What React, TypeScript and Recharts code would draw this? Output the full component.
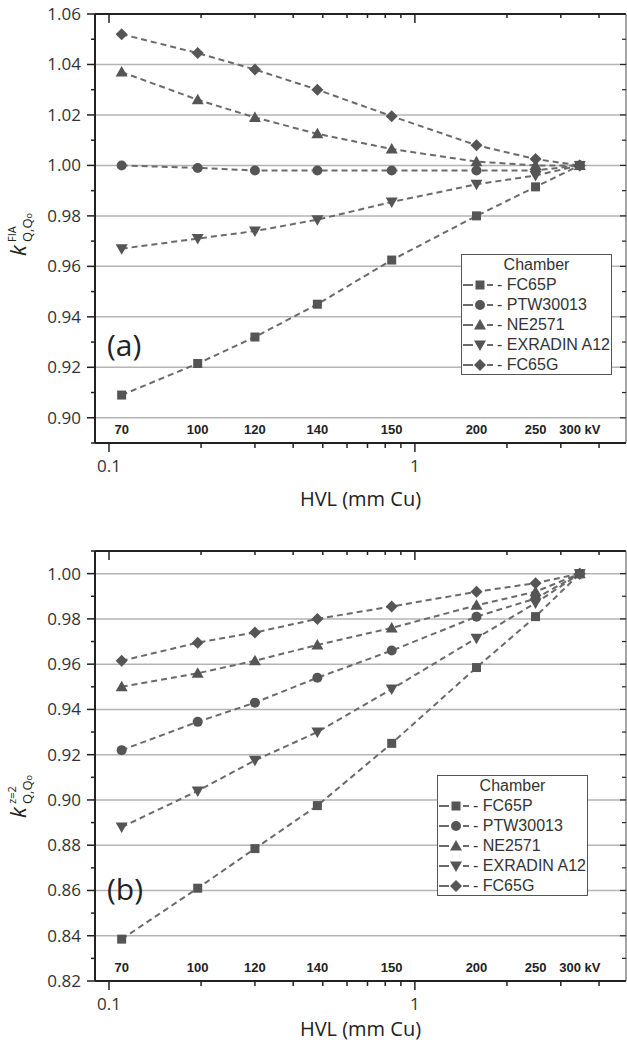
import React from 'react'
import { LineChart, Line, XAxis, YAxis, ReferenceLine } from 'recharts'

// beam quality: HVL (mm Cu) and tube voltage labels
const hvl = [0.11, 0.195, 0.3, 0.48, 0.84, 1.59, 2.48, 3.46]
const kvLabels = ['70', '100', '120', '140', '150', '200', '250', '300 kV']

const chambers = ['FC65P', 'PTW30013', 'NE2571', 'EXRADIN A12', 'FC65G']
const markers = ['square', 'circle', 'up', 'down', 'diamond']

// (a) k_FIA
const fiaFC65P = [0.909, 0.9215, 0.932, 0.945, 0.9625, 0.980, 0.9915, 1.0]
const fiaPTW30013 = [1.0, 0.999, 0.998, 0.998, 0.998, 0.998, 0.998, 1.0]
const fiaNE2571 = [1.037, 1.026, 1.019, 1.0125, 1.0065, 1.0015, 1.0, 1.0]
const fiaEXRADIN = [0.967, 0.971, 0.974, 0.9785, 0.9855, 0.9925, 0.996, 1.0]
const fiaFC65G = [1.052, 1.0445, 1.038, 1.030, 1.0195, 1.008, 1.0025, 1.0]

// (b) k z=2
const z2FC65P = [0.8385, 0.861, 0.8785, 0.8975, 0.925, 0.9585, 0.981, 1.0]
const z2PTW30013 = [0.922, 0.9345, 0.943, 0.954, 0.966, 0.981, 0.989, 1.0]
const z2NE2571 = [0.950, 0.956, 0.9615, 0.9685, 0.976, 0.986, 0.992, 1.0]
const z2EXRADIN = [0.888, 0.904, 0.9175, 0.930, 0.949, 0.9715, 0.987, 1.0]
const z2FC65G = [0.9615, 0.9695, 0.974, 0.980, 0.9855, 0.992, 0.9958, 1.0]

// axes
const xMajor = [0.1, 1]
const xMinor = [0.2, 0.3, 0.4, 0.5, 0.6, 0.7, 0.8, 0.9, 2, 3, 4]
const xDomain = [0.09, 4.9]

const yMajorA = [0.90, 0.92, 0.94, 0.96, 0.98, 1.00, 1.02, 1.04, 1.06]
const yMinorA = [0.89, 0.91, 0.93, 0.95, 0.97, 0.99, 1.01, 1.03, 1.05]
const gridA = [0.90, 0.92, 0.94, 0.96, 0.98, 1.00, 1.02, 1.04]

const yMajorB = [0.82, 0.84, 0.86, 0.88, 0.90, 0.92, 0.94, 0.96, 0.98, 1.00]
const yMinorB = [0.83, 0.85, 0.87, 0.89, 0.91, 0.93, 0.95, 0.97, 0.99, 1.01]
const gridB = [0.84, 0.86, 0.88, 0.90, 0.92, 0.94, 0.96, 0.98, 1.00]

const INK = '#222'
const MARK = '#555'
const LINE = '#6a6a6a'
const TICK_FONT = '"Open Sans", sans-serif'

const buildRows = (cols: number[][]) =>
  hvl.map((x, i) => {
    const r: Record<string, number> = { hvl: x }
    chambers.forEach((c, j) => { r[c] = cols[j][i] })
    return r
  })

const dataA = buildRows([fiaFC65P, fiaPTW30013, fiaNE2571, fiaEXRADIN, fiaFC65G])
const dataB = buildRows([z2FC65P, z2PTW30013, z2NE2571, z2EXRADIN, z2FC65G])

const isIn = (list: number[], v: number) => list.some(t => Math.abs(t - v) < 1e-6)

function Marker({ kind, cx, cy }: { kind: string; cx: number; cy: number }) {
  if (cx == null || cy == null) return null
  switch (kind) {
    case 'square':
      return <rect x={cx - 4.5} y={cy - 4.5} width={9} height={9} fill={MARK} />
    case 'circle':
      return <circle cx={cx} cy={cy} r={5} fill={MARK} />
    case 'up':
      return <polygon points={`${cx},${cy - 6} ${cx + 6},${cy + 4.5} ${cx - 6},${cy + 4.5}`} fill={MARK} />
    case 'down':
      return <polygon points={`${cx},${cy + 6} ${cx + 6},${cy - 4.5} ${cx - 6},${cy - 4.5}`} fill={MARK} />
    default:
      return <polygon points={`${cx},${cy - 6} ${cx + 6},${cy} ${cx},${cy + 6} ${cx - 6},${cy}`} fill={MARK} />
  }
}

const BottomTick = ({ x, y, payload }: any) => {
  const major = isIn(xMajor, payload.value)
  return (
    <g>
      <line x1={x} x2={x} y1={y} y2={y + (major ? 9 : 5)} stroke={INK} strokeWidth={1.5} />
      {major && (
        <text x={x} y={y + 29} textAnchor="middle" fontFamily={TICK_FONT} fontSize={17} fill="#333">
          {payload.value}
        </text>
      )}
    </g>
  )
}

const TopTick = ({ x, y, payload }: any) => {
  const major = isIn(xMajor, payload.value)
  return <line x1={x} x2={x} y1={y} y2={y + (major ? 9 : 4)} stroke={INK} strokeWidth={1.5} />
}

const KvTick = ({ x, y, payload }: any) => {
  const i = hvl.indexOf(payload.value)
  return (
    <text x={x} y={y - 9} textAnchor="middle" fontFamily="Arial, 'Liberation Sans', sans-serif"
      fontWeight="bold" fontSize={13} fill={INK}>
      {kvLabels[i]}
    </text>
  )
}

const makeLeftTick = (major: number[]) => ({ x, y, payload }: any) => {
  const isMajor = isIn(major, payload.value)
  return (
    <g>
      <line x1={x - (isMajor ? 8 : 4)} x2={x} y1={y} y2={y} stroke={INK} strokeWidth={1.5} />
      {isMajor && (
        <text x={x - 14} y={y + 6} textAnchor="end" fontFamily={TICK_FONT} fontSize={17} fill="#333">
          {payload.value.toFixed(2)}
        </text>
      )}
    </g>
  )
}

const makeRightTick = (major: number[]) => ({ x, y, payload }: any) => {
  const isMajor = isIn(major, payload.value)
  return <line x1={x - (isMajor ? 6 : 4)} x2={x} y1={y} y2={y} stroke={INK} strokeWidth={1.2} />
}

function Legend({ left, top }: { left: number; top: number }) {
  return (
    <div style={{
      position: 'absolute', left, top, width: 151, height: 121,
      border: '1px solid #555', background: '#fff',
      fontFamily: "Arial, 'Liberation Sans', sans-serif", fontSize: 16, color: '#333',
      lineHeight: '20px', boxSizing: 'border-box',
    }}>
      <div style={{ textAlign: 'center' }}>Chamber</div>
      {chambers.map((c, i) => (
        <div key={c} style={{ display: 'flex', alignItems: 'center', height: 20 }}>
          <svg width={34} height={20} style={{ flex: 'none' }}>
            <line x1={1} x2={11} y1={10} y2={10} stroke={LINE} strokeWidth={2} />
            <line x1={25} x2={31} y1={10} y2={10} stroke={LINE} strokeWidth={2} />
            <Marker kind={markers[i]} cx={18} cy={10} />
          </svg>
          <span style={{ marginLeft: 1, whiteSpace: 'nowrap' }}>- {c}</span>
        </div>
      ))}
    </div>
  )
}

type PanelProps = {
  data: Record<string, number>[]
  yDomain: number[]
  yMajor: number[]
  yMinor: number[]
  grid: number[]
  height: number
  marginTop: number
  axisHeight: number
  labelOffset: number
  tag: string
  tagY: number
  sup: string
  yLabelY: number
  legendLeft: number
  legendTop: number
}

function Panel(p: PanelProps) {
  const yTicks = [...p.yMajor, ...p.yMinor].sort((a, b) => a - b)
  const xTicks = [...xMajor, ...xMinor].sort((a, b) => a - b)
  const LeftTick = makeLeftTick(p.yMajor)
  const RightTick = makeRightTick(p.yMajor)
  return (
    <div style={{ position: 'relative', width: 627, height: p.height }}>
      <LineChart width={627} height={p.height} data={p.data}
        margin={{ top: p.marginTop, right: 1, bottom: 0, left: 0 }}>
        <XAxis dataKey="hvl" type="number" scale="log" domain={xDomain} allowDataOverflow
          ticks={xTicks} interval={0} height={p.axisHeight} tickSize={0} tickMargin={0}
          tick={<BottomTick />} axisLine={{ stroke: INK, strokeWidth: 2 }} tickLine={false}
          label={{ value: 'HVL (mm Cu)', position: 'insideBottom', offset: p.labelOffset,
            fontFamily: TICK_FONT, fontSize: 20, fill: '#222' }} />
        <XAxis xAxisId="top" orientation="top" mirror dataKey="hvl" type="number" scale="log"
          domain={xDomain} allowDataOverflow ticks={xTicks} interval={0} tickSize={0} tickMargin={0}
          tick={<TopTick />} axisLine={{ stroke: INK, strokeWidth: 2 }} tickLine={false} />
        <XAxis xAxisId="kv" orientation="bottom" mirror dataKey="hvl" type="number" scale="log"
          domain={xDomain} allowDataOverflow ticks={hvl} interval={0} tickSize={0} tickMargin={0}
          tick={<KvTick />} axisLine={false} tickLine={false} />
        <YAxis type="number" domain={p.yDomain} allowDataOverflow ticks={yTicks} interval={0}
          width={95} tickSize={0} tickMargin={0} tick={<LeftTick />}
          axisLine={{ stroke: INK, strokeWidth: 2 }} tickLine={false} />
        <YAxis yAxisId="right" orientation="right" mirror type="number" domain={p.yDomain}
          allowDataOverflow ticks={yTicks} interval={0} tickSize={0} tickMargin={0}
          tick={<RightTick />} axisLine={{ stroke: '#888', strokeWidth: 1.5 }} tickLine={false} />
        {p.grid.map(v => (
          <ReferenceLine key={v} y={v} stroke="#b4b4b4" strokeWidth={1.5} />
        ))}
        {chambers.map((c, i) => (
          <Line key={c} dataKey={c} type="linear" stroke={LINE} strokeWidth={2}
            strokeDasharray="6 4" isAnimationActive={false}
            dot={(d: any) => <Marker key={`${c}-${d.index}`} kind={markers[i]} cx={d.cx} cy={d.cy} />} />
        ))}
      </LineChart>
      <svg width={627} height={p.height}
        style={{ position: 'absolute', left: 0, top: 0, pointerEvents: 'none' }}>
        <g transform={`translate(26, ${p.yLabelY}) rotate(-90)`} fill="#222" fontFamily={TICK_FONT}>
          <text x={0} y={0} fontSize={22} fontStyle="italic">k</text>
          <text x={14} y={-10} fontSize={11}>{p.sup}</text>
          <text x={14} y={6} fontSize={13}>Q,Q<tspan fontSize={9}>o</tspan></text>
        </g>
        <text x={107} y={p.tagY} fontFamily={TICK_FONT} fontSize={30} fill="#222">{p.tag}</text>
      </svg>
      <Legend left={p.legendLeft} top={p.legendTop} />
    </div>
  )
}

export default function App() {
  return (
    <div style={{ width: 627, height: 1046, background: '#fff', overflow: 'hidden' }}>
      <style>{'body{margin:0}'}</style>
      <Panel data={dataA} yDomain={[0.89, 1.06]} yMajor={yMajorA} yMinor={yMinorA} grid={gridA}
        height={520} marginTop={14} axisHeight={77} labelOffset={14} tag="(a)" tagY={356}
        sup="FIA" yLabelY={256} legendLeft={461} legendTop={254} />
      <Panel data={dataB} yDomain={[0.82, 1.01]} yMajor={yMajorB} yMinor={yMinorB} grid={gridB}
        height={526} marginTop={31} axisHeight={65} labelOffset={10} tag="(b)" tagY={380}
        sup="z=2" yLabelY={298} legendLeft={437} legendTop={255} />
    </div>
  )
}
